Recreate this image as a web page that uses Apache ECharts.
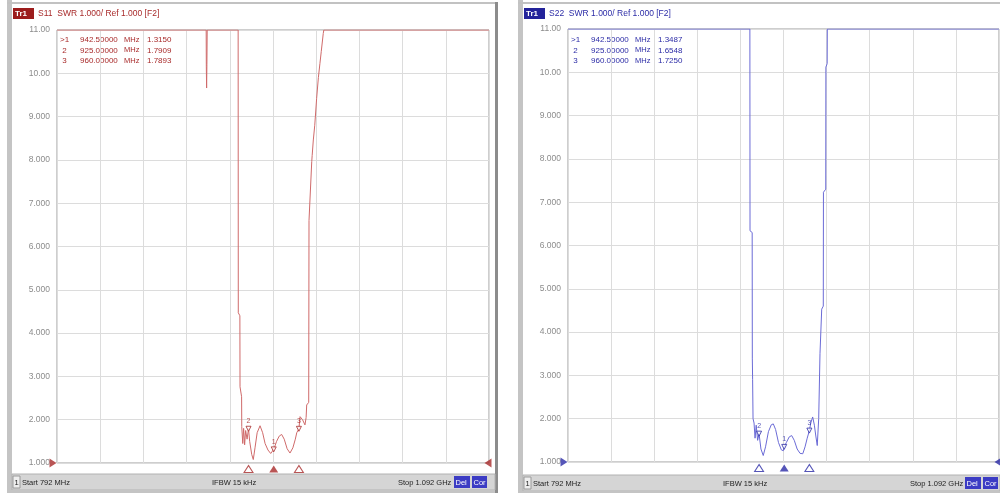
<!DOCTYPE html>
<html><head><meta charset="utf-8">
<script src="https://cdn.jsdelivr.net/npm/echarts@6/dist/echarts.min.js"></script>
<style>html,body{margin:0;padding:0;background:#fff}#c{width:1000px;height:493px}</style>
</head><body><div id="c"></div>
<script>
// ---- axis settings / tick labels ----
const startMHz = 792;
const stopMHz = 1092;
const swrMin = 1, swrMax = 11;
const yTickLabels = ['1.000','2.000','3.000','4.000','5.000','6.000','7.000','8.000','9.000','10.00','11.00'];
const ifbwText = 'IFBW 15 kHz';

// ---- S11 trace (frequency MHz, SWR; display clipped at 11) ----
const s11Freq = [792, 895.6, 895.7, 895.9, 896.1, 896.3, 917.8, 917.9, 919.0, 919.1, 920.2, 920.3, 921.0, 921.6, 922.3, 923.0, 924.0, 925.0, 925.8, 927.2, 928.3, 929.5, 931.0, 933.0, 934.8, 936.5, 938.5, 940.4, 942.5, 944.5, 946.3, 948.0, 949.8, 951.8, 953.8, 955.8, 957.5, 958.5, 960.0, 960.8, 962.5, 964.2, 965.0, 965.4, 966.8, 967.0, 968.9, 969.2, 970.0, 971.0, 972.3, 973.5, 974.6, 975.5, 976.9, 977.3, 1092];
const s11Swr  = [11, 11, 10.15, 9.66, 10.2, 11, 11, 4.47, 4.4, 2.76, 2.53, 1.84, 1.45, 1.8, 1.42, 1.75, 1.55, 1.79, 1.5, 1.2, 1.08, 1.35, 1.7, 1.86, 1.7, 1.45, 1.3, 1.22, 1.315, 1.5, 1.62, 1.66, 1.55, 1.33, 1.23, 1.35, 1.55, 1.7, 1.79, 2.07, 2.0, 1.88, 2.05, 2.34, 2.4, 6.6, 7.96, 8.1, 8.46, 8.8, 9.42, 9.9, 10.23, 10.5, 10.92, 11, 11];

// ---- S22 trace ----
const s22Freq = [792, 918.6, 918.7, 920.2, 920.3, 920.5, 920.8, 921.5, 922.2, 923.0, 924.0, 925.0, 926.3, 927.9, 929.5, 931.5, 933.5, 934.9, 936.5, 938.5, 940.5, 941.9, 942.5, 944.0, 946.0, 947.7, 949.5, 951.5, 953.5, 955.4, 957.0, 958.5, 960.0, 961.0, 962.3, 963.5, 964.5, 965.5, 966.5, 967.4, 968.6, 969.7, 969.8, 971.4, 971.5, 972.4, 972.5, 1092];
const s22Swr  = [11, 11, 6.34, 6.3, 3.4, 2.9, 2.0, 1.9, 1.55, 1.85, 1.5, 1.65, 1.3, 1.15, 1.35, 1.7, 1.86, 1.88, 1.75, 1.45, 1.28, 1.26, 1.35, 1.45, 1.58, 1.61, 1.5, 1.3, 1.2, 1.19, 1.35, 1.55, 1.725, 1.9, 2.04, 1.85, 1.6, 1.38, 2.0, 3.5, 4.53, 4.6, 7.23, 7.3, 10.12, 10.2, 11, 11];

// ---- markers ----
const markerIds = ['>1', ' 2', ' 3'];
const markerFreq = [942.5, 925, 960];
const s11MarkerSwr = [1.3150, 1.7909, 1.7893];
const s22MarkerSwr = [1.3487, 1.6548, 1.7250];

const RED = '#cf6a6a', RED_T = '#a82a2a';
const BLUE = '#6b6bd6', BLUE_T = '#2b2ba6';
const FONT = 'Liberation Sans, Arial, sans-serif';

const zip = (a, b) => a.map((v, i) => [v, b[i]]);

function axesFor(gi) {
  return {
    x: [
      { gridIndex: gi, type: 'value', min: startMHz, max: stopMHz, show: false, splitLine: { show: false } },
      { gridIndex: gi, type: 'value', min: 0, max: 10, interval: 1, position: 'top',
        axisLine: { show: false }, axisTick: { show: false }, axisLabel: { show: false },
        splitLine: { show: true, lineStyle: { color: '#dcdcdc', width: 1 } } }
    ],
    y: { gridIndex: gi, type: 'value', min: swrMin, max: swrMax, interval: 1,
      axisLine: { show: false }, axisTick: { show: false },
      axisLabel: { margin: 7, fontSize: 8.5, fontFamily: FONT,
        color: v => (v === swrMin ? (gi === 0 ? RED_T : BLUE_T) : '#8c8c8c'),
        formatter: v => yTickLabels[Math.round(v - swrMin)] },
      splitLine: { show: true, lineStyle: { color: '#dcdcdc', width: 1 } } }
  };
}
const A0 = axesFor(0), A1 = axesFor(1);

function traceSeries(xi, yi, freq, swr, col, mSwr, colT) {
  return [
    { type: 'line', xAxisIndex: xi, yAxisIndex: yi, data: zip(freq, swr), showSymbol: false,
      lineStyle: { color: col, width: 1 }, animation: false, z: 3 },
    // on-trace marker symbols with numbers
    { type: 'scatter', xAxisIndex: xi, yAxisIndex: yi, clip: false, animation: false, z: 4,
      data: markerFreq.map((f, i) => ({ value: [f, mSwr[i]], name: markerIds[i].replace('>', '').trim() })),
      symbol: 'triangle', symbolRotate: 180, symbolSize: [5, 5],
      itemStyle: { color: '#fff', borderColor: colT, borderWidth: 1 },
      label: { show: true, position: 'top', distance: 1, fontSize: 7, fontFamily: FONT, color: colT, formatter: p => p.name } },
    // marker triangles below the axis
    { type: 'scatter', xAxisIndex: xi, yAxisIndex: yi, clip: false, animation: false, z: 4,
      data: markerFreq.map((f, i) => ({ value: [f, swrMin],
        itemStyle: i === 0 ? { color: colT } : { color: '#fff', borderColor: colT, borderWidth: 1 } })),
      symbol: 'triangle', symbolSize: [9, 7], symbolOffset: [0, 6] },
    // reference level arrows
    { type: 'scatter', xAxisIndex: xi, yAxisIndex: yi, clip: false, animation: false, z: 5,
      data: [[startMHz, swrMin]], symbol: 'triangle', symbolRotate: -90, symbolSize: [9, 7], symbolOffset: [-4, 0],
      itemStyle: { color: colT } },
    { type: 'scatter', xAxisIndex: xi, yAxisIndex: yi, clip: false, animation: false, z: 5,
      data: [[stopMHz, swrMin]], symbol: 'triangle', symbolRotate: 90, symbolSize: [9, 7], symbolOffset: [-1, 0],
      itemStyle: { color: colT } }
  ];
}

function txt(x, y, t, fill, size, extra) {
  return Object.assign({ type: 'text', x, y, silent: true,
    style: { text: t, fill, font: (size || 8) + 'px ' + FONT, verticalAlign: 'middle' } }, extra || {});
}
function rect(x, y, w, h, fill, stroke) {
  return { type: 'rect', silent: true, shape: { x, y, width: w, height: h },
    style: { fill, stroke: stroke || null, lineWidth: 1 } };
}

function panelGraphics(ox, plotLeft, width, right, title, tagCol, textCol) {
  const g = [];
  // frame
  g.push(rect(ox - 5, 0, 5, 493, '#c4c4c4'));
  g.push(rect(ox - 5, 2, width + 5, 2, '#c2c2c2'));
  if (right) g.push(rect(right, 2, 3, 491, '#8c8c8c'));
  // header
  g.push(rect(ox + 1, 8, 21, 11, tagCol));
  g.push(txt(ox + 3, 13.5, 'Tr1', '#fff', 8, { style: { text: 'Tr1', fill: '#fff', font: 'bold 8px ' + FONT, verticalAlign: 'middle' } }));
  g.push(txt(ox + 26, 13.5, title, textCol, 8.5));
  // readouts
  return g;
}

function readouts(plotLeft, mSwr, col) {
  const g = [];
  markerIds.forEach((id, i) => {
    const y = 40 + i * 10.3;
    g.push(txt(plotLeft + 3, y, id, col, 8));
    g.push(txt(plotLeft + 23, y, markerFreq[i].toFixed(5), col, 8));
    g.push(txt(plotLeft + 67, y, 'MHz', col, 7.5));
    g.push(txt(plotLeft + 90, y, mSwr[i].toFixed(4), col, 8));
  });
  return g;
}

function statusBar(x0, w, y0, xIfbw, xStop, xBox) {
  const g = [];
  g.push(rect(x0, y0, w, 16, '#d5d5d5', '#b2b2b2'));
  g.push(rect(x0, y0 + 16, w, 3, '#c4c4c4'));
  g.push(rect(x0 + 1, y0 + 2, 7, 12, '#eeeeee', '#9a9a9a'));
  g.push(txt(x0 + 2.5, y0 + 8.5, '1', '#222', 7.5));
  g.push(txt(x0 + 10, y0 + 8.5, 'Start ' + startMHz + ' MHz', '#222', 7.5));
  g.push(txt(xIfbw, y0 + 8.5, ifbwText, '#222', 7.5));
  g.push(txt(xStop, y0 + 8.5, 'Stop ' + (stopMHz / 1000).toFixed(3) + ' GHz', '#222', 7.5));
  g.push(rect(xBox, y0 + 2, 16, 12, '#3c3cc4'));
  g.push(txt(xBox + 1.5, y0 + 8.5, 'Del', '#fff', 7.5));
  g.push(rect(xBox + 18, y0 + 2, 15, 12, '#3c3cc4'));
  g.push(txt(xBox + 19.5, y0 + 8.5, 'Cor', '#fff', 7.5));
  return g;
}

const graphics = []
  .concat(panelGraphics(12, 57, 486, 495, 'S11  SWR 1.000/ Ref 1.000 [F2]', '#9c1c1c', RED_T))
  .concat(panelGraphics(523, 568, 477, null, 'S22  SWR 1.000/ Ref 1.000 [F2]', '#23239a', BLUE_T))
  .concat(readouts(57, s11MarkerSwr, RED_T))
  .concat(readouts(568, s22MarkerSwr, BLUE_T))
  .concat(statusBar(12, 483, 474, 212, 398, 454))
  .concat(statusBar(523, 477, 475, 723, 910, 965));

const chart = echarts.init(document.getElementById('c'), null, { renderer: 'canvas' });
chart.setOption({
  animation: false,
  backgroundColor: '#ffffff',
  grid: [
    { left: 57, top: 30, width: 432, height: 433, show: true, borderColor: '#9c9c9c', borderWidth: 1, backgroundColor: '#fff', containLabel: false },
    { left: 568, top: 29, width: 431, height: 433, show: true, borderColor: '#9c9c9c', borderWidth: 1, backgroundColor: '#fff', containLabel: false }
  ],
  xAxis: [A0.x[0], A0.x[1], A1.x[0], A1.x[1]],
  yAxis: [A0.y, A1.y],
  series: []
    .concat(traceSeries(0, 0, s11Freq, s11Swr, RED, s11MarkerSwr, RED_T))
    .concat(traceSeries(2, 1, s22Freq, s22Swr, BLUE, s22MarkerSwr, BLUE_T)),
  graphic: graphics
});
</script>
</body></html>
